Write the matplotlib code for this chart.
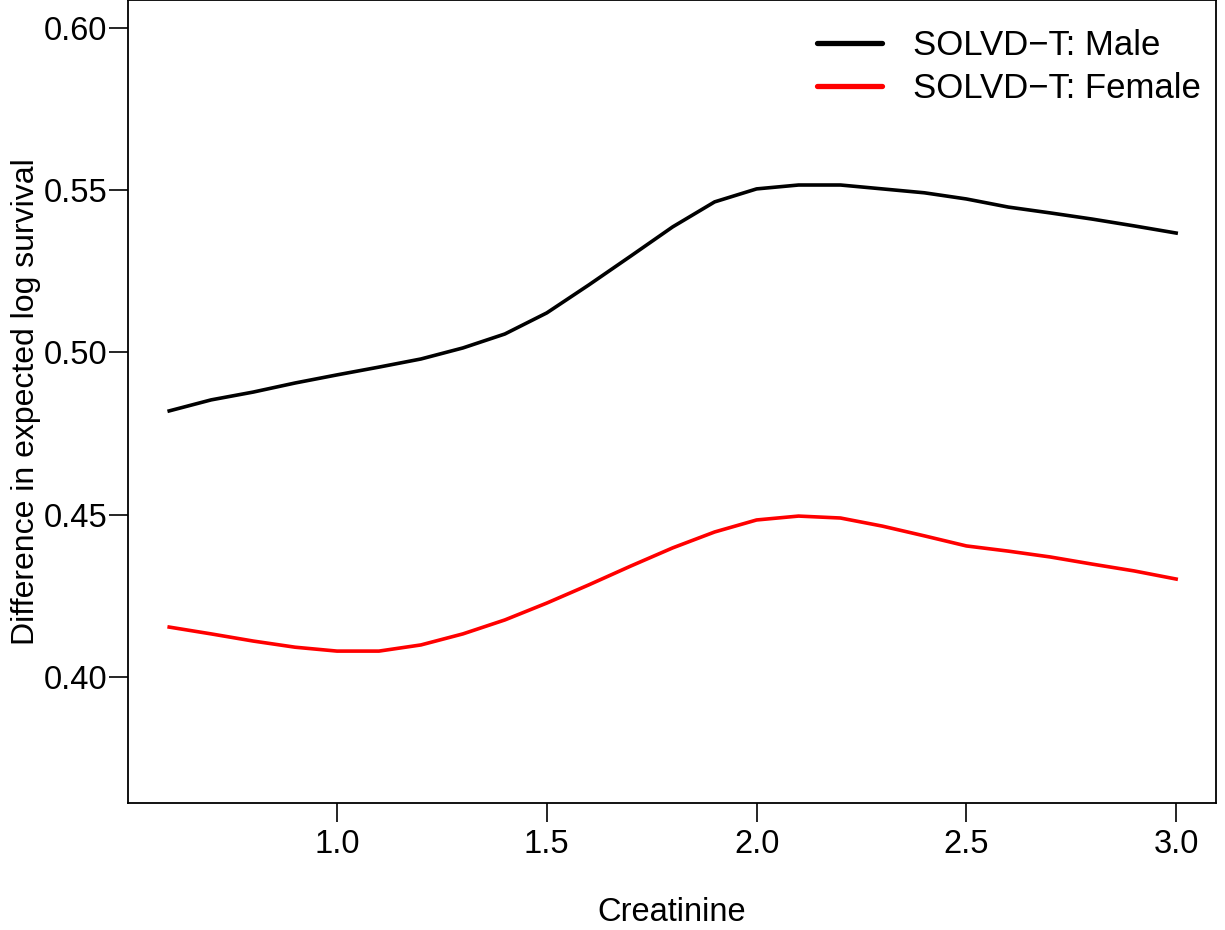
import numpy as np
import matplotlib
matplotlib.use("Agg")
import matplotlib.pyplot as plt

plt.rcParams['font.family'] = ['Liberation Sans', 'DejaVu Sans']

creat = [0.6, 0.7, 0.8, 0.9, 1.0, 1.1, 1.2, 1.3, 1.4, 1.5, 1.6, 1.7, 1.8,
         1.9, 2.0, 2.1, 2.2, 2.3, 2.4, 2.5, 2.6, 2.7, 2.8, 2.9, 3.0]
male = [0.4820, 0.4854, 0.4878, 0.4906, 0.4931, 0.4955, 0.4980, 0.5014,
        0.5057, 0.5122, 0.5208, 0.5297, 0.5387, 0.5464, 0.5504, 0.5516,
        0.5516, 0.5504, 0.5492, 0.5473, 0.5448, 0.5430, 0.5411, 0.5390,
        0.5368]
female = [0.4154, 0.4133, 0.4111, 0.4092, 0.4080, 0.4080, 0.4099, 0.4133,
          0.4176, 0.4228, 0.4284, 0.4342, 0.4398, 0.4447, 0.4484, 0.4496,
          0.4490, 0.4465, 0.4435, 0.4404, 0.4388, 0.4370, 0.4348, 0.4327,
          0.4302]
xticks = [1.0, 1.5, 2.0, 2.5, 3.0]
yticks = [0.40, 0.45, 0.50, 0.55, 0.60]

fs = 23.5

fig = plt.figure(figsize=(12.25, 9.3), dpi=100)
ax = fig.add_axes([128/1225, 1-803/930, (1216-128)/1225, 803/930])

ax.plot(creat, male, color='black', lw=2.6, label='SOLVD\u2212T: Male')
ax.plot(creat, female, color='#ff0000', lw=2.6, label='SOLVD\u2212T: Female')

ax.set_xlim(0.5018, 3.095)
ax.set_ylim(0.3612, 0.6086)
ax.set_xticks(xticks)
ax.set_xticklabels([f"{v:.1f}" for v in xticks])
ax.set_yticks(yticks)
ax.set_yticklabels([f"{v:.2f}" for v in yticks])
ax.tick_params(axis='both', direction='out', length=14, width=1.2, labelsize=fs)
ax.tick_params(axis='y', pad=1)
ax.tick_params(axis='x', pad=5)
for s in ax.spines.values():
    s.set_linewidth(1.3)

ax.set_xlabel('Creatinine', fontsize=fs, labelpad=26)
ax.set_ylabel('Difference in expected log survival', fontsize=23, labelpad=2)

leg = ax.legend(loc='upper left', bbox_to_anchor=(817/1225, 1-29/930),
                bbox_transform=fig.transFigure, frameon=False, fontsize=25,
                handlelength=1.87, handletextpad=0.9, labelspacing=0.28,
                borderpad=0, borderaxespad=0)
for ln in leg.get_lines():
    ln.set_linewidth(3.8)
    ln.set_solid_capstyle('round')

fig.savefig('out.png', dpi=100)
